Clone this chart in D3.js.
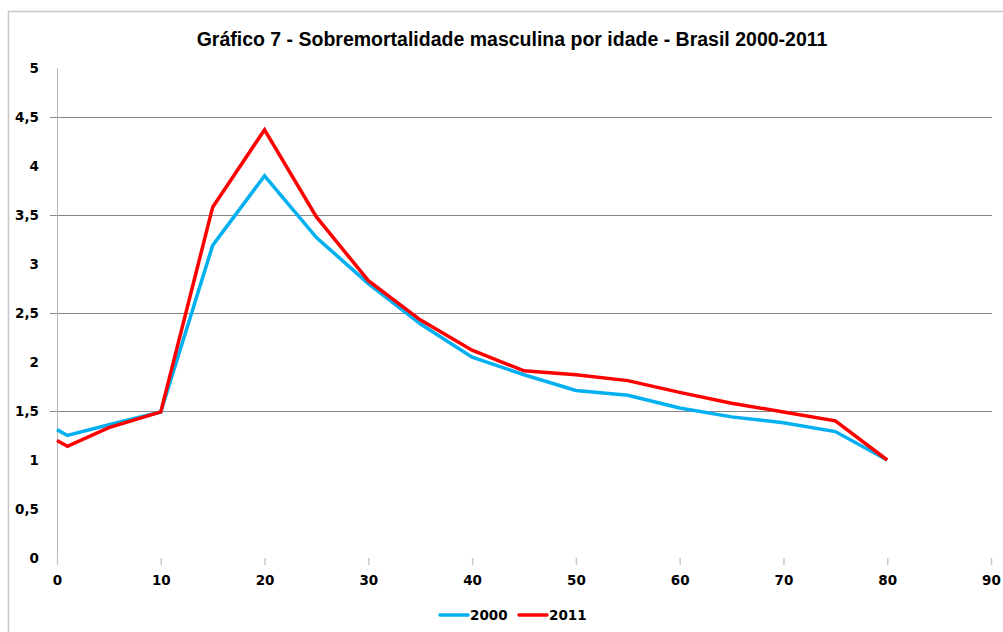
<!DOCTYPE html>
<html>
<head>
<meta charset="utf-8">
<script src="https://cdn.jsdelivr.net/npm/d3@7"></script>
<style>
  body { margin: 0; background: #fff; }
  svg { display: block; }
  .tick-label { font-family: "DejaVu Sans", sans-serif; font-weight: bold; font-size: 13.5px; fill: #000; }
  .title { font-family: "Liberation Sans", Arial, sans-serif; font-weight: bold; font-size: 19.5px; fill: #000; }
</style>
</head>
<body>
<script>
// DATA

const ages = [0, 1, 5, 10, 15, 20, 25, 30, 35, 40, 45, 50, 55, 60, 65, 70, 75, 80];
const values2000 = [1.31, 1.25, 1.36, 1.49, 3.19, 3.90, 3.27, 2.80, 2.39, 2.05, 1.87, 1.71, 1.66, 1.53, 1.44, 1.38, 1.29, 1.00];
const values2011 = [1.20, 1.14, 1.33, 1.49, 3.58, 4.37, 3.48, 2.83, 2.43, 2.12, 1.91, 1.87, 1.81, 1.69, 1.58, 1.49, 1.40, 1.00];
const seriesNames = ["2000", "2011"];
const seriesColors = ["#00b0f0", "#ff0000"];
const xTicks = [0, 10, 20, 30, 40, 50, 60, 70, 80, 90];
const yTicks = [0, 0.5, 1, 1.5, 2, 2.5, 3, 3.5, 4, 4.5, 5];
const yGrid = [1.5, 2.5, 3.5, 4.5];
const title = "Gráfico 7 - Sobremortalidade masculina por idade - Brasil 2000-2011";

// LAYOUT

const width = 1003, height = 632;
const plotLeft = 57, plotRight = 991, plotTop = 68, plotBottom = 558;

const svg = d3.select("body").append("svg")
    .attr("width", width)
    .attr("height", height);

// outer frame (only top and left edges are in view)
svg.append("path")
    .attr("d", `M8.5,${height} V11.5 H${width}`)
    .attr("fill", "none")
    .attr("stroke", "#c8c8c8")
    .attr("stroke-width", 1.5);

const x = d3.scaleLinear().domain([0, 90]).range([plotLeft, plotRight]);
const y = d3.scaleLinear().domain([0, 5]).range([plotBottom, plotTop]);

// title
svg.append("text")
    .attr("class", "title")
    .attr("x", 512)
    .attr("y", 46)
    .attr("text-anchor", "middle")
    .text(title);

// horizontal grid
svg.append("g")
    .selectAll("line")
    .data(yGrid)
    .enter()
    .append("line")
    .attr("x1", plotLeft - 7)
    .attr("x2", plotRight + 1)
    .attr("y1", d => Math.round(y(d)) + 0.5)
    .attr("y2", d => Math.round(y(d)) + 0.5)
    .attr("stroke", "#868686")
    .attr("stroke-width", 1);

// y axis line
svg.append("line")
    .attr("x1", plotLeft + 0.5).attr("x2", plotLeft + 0.5)
    .attr("y1", plotTop).attr("y2", plotBottom + 7)
    .attr("stroke", "#b4b4b4");

// y labels
svg.append("g")
    .selectAll("text")
    .data(yTicks)
    .enter()
    .append("text")
    .attr("class", "tick-label")
    .attr("x", 39)
    .attr("y", d => y(d) + 5)
    .attr("text-anchor", "end")
    .text(d => String(d).replace(".", ","));

// x axis: tick marks and labels only
const xAxis = svg.append("g")
    .attr("transform", `translate(0,${plotBottom})`)
    .call(d3.axisBottom(x).tickValues(xTicks).tickSize(7).tickSizeOuter(0).tickPadding(10).tickFormat(d3.format("d")));
xAxis.select(".domain").remove();
xAxis.selectAll(".tick line").attr("stroke", "#c8c8c8").attr("stroke-width", 1.5);
xAxis.selectAll(".tick text")
    .attr("class", "tick-label")
    .attr("font-family", null)
    .attr("font-size", null);

// lines
const line = d3.line()
    .x(d => x(d[0]))
    .y(d => y(d[1]));

const allSeries = [values2000, values2011];
allSeries.forEach(function (vals, i) {
    svg.append("path")
        .datum(ages.map((a, j) => [a, vals[j]]))
        .attr("d", line)
        .attr("fill", "none")
        .attr("stroke", seriesColors[i])
        .attr("stroke-width", 3.5)
        .attr("stroke-linejoin", "miter");
});

// legend
const legendX = [440, 519];
const legendY = 615;
seriesNames.forEach(function (name, i) {
    svg.append("line")
        .attr("x1", legendX[i]).attr("x2", legendX[i] + 28)
        .attr("y1", legendY).attr("y2", legendY)
        .attr("stroke", seriesColors[i])
        .attr("stroke-width", 3.5)
        .attr("stroke-linecap", "round");
    svg.append("text")
        .attr("class", "tick-label")
        .attr("x", legendX[i] + 30)
        .attr("y", legendY + 5)
        .text(name);
});
</script>
</body>
</html>
